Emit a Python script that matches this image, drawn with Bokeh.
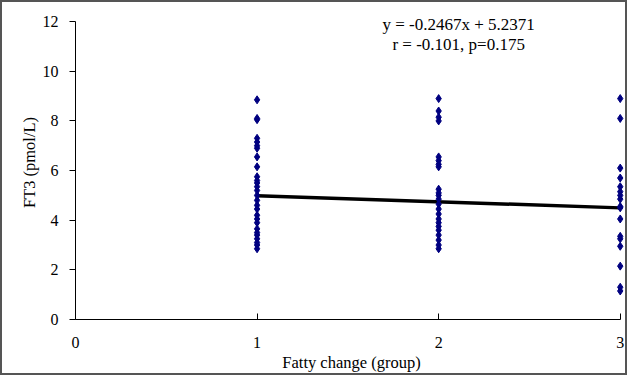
from bokeh.plotting import figure
from bokeh.models import Range1d, Label, ColumnDataSource, FixedTicker
from bokeh.embed import file_html
from bokeh.resources import INLINE

group1 = [8.85, 8.1, 8.05, 7.3, 7.15, 7.0, 6.9, 6.55, 6.15, 5.75, 5.6, 5.5, 5.35, 5.2,
          5.0, 4.8, 4.6, 4.45, 4.2, 4.05, 3.9, 3.65, 3.5, 3.4, 3.25, 3.1, 3.0, 2.85]
group2 = [8.9, 8.4, 8.15, 8.0, 6.55, 6.4, 6.25, 6.15, 5.25, 5.1, 5.0, 4.85, 4.65, 4.45,
          4.25, 4.05, 3.9, 3.75, 3.6, 3.4, 3.2, 3.0, 2.85]
group3 = [8.9, 8.1, 6.1, 5.7, 5.35, 5.15, 5.0, 4.85, 4.55, 4.5, 4.05, 3.35, 3.25, 2.95,
          2.15, 1.3, 1.15]
slope = -0.2467
intercept = 5.2371
x_ticks = [0, 1, 2, 3]
y_ticks = [0, 2, 4, 6, 8, 10, 12]
eq_text = "y = -0.2467x + 5.2371"
stat_text = "r = -0.101, p=0.175"

xs = [1] * len(group1) + [2] * len(group2) + [3] * len(group3)
ys = group1 + group2 + group3
src = ColumnDataSource(dict(x=xs, y=ys))

FONT = "Liberation Serif"

p = figure(width=627, height=375, output_backend="svg", toolbar_location=None,
           x_range=Range1d(0, 3.04), y_range=Range1d(0, 12.65),
           min_border_left=73, min_border_right=2, min_border_top=3, min_border_bottom=58)
p.styles = {"border": "2px solid #555555", "box-sizing": "border-box"}
p.outline_line_color = None
p.xgrid.visible = False
p.ygrid.visible = False

fit_x = [1, 3]
fit_y = [slope * v + intercept for v in fit_x]
p.line(fit_x, fit_y, line_color="black", line_width=3.5)
p.scatter("x", "y", source=src, marker="diamond", size=8, fill_color="#000080",
          line_color="#000080")

for ax in (p.xaxis[0], p.yaxis[0]):
    ax.axis_line_color = "black"
    ax.major_tick_line_color = "black"
    ax.minor_tick_line_color = None
    ax.major_label_text_font = FONT
    ax.major_label_text_font_size = "16px"
    ax.major_label_text_color = "black"
    ax.axis_label_text_font = FONT
    ax.axis_label_text_font_size = "16.5px"
    ax.axis_label_text_font_style = "normal"
    ax.axis_label_text_color = "black"

p.xaxis.ticker = FixedTicker(ticks=x_ticks)
p.xaxis.bounds = (0, 3)
p.xaxis.major_tick_in = 6
p.xaxis.major_tick_out = 0
p.xaxis.major_label_standoff = 17
p.xaxis.axis_label = "Fatty change (group)"
p.xaxis.axis_label_standoff = 2

p.yaxis.ticker = FixedTicker(ticks=y_ticks)
p.yaxis.bounds = (0, 12)
p.yaxis.major_tick_in = 0
p.yaxis.major_tick_out = 6
p.yaxis.major_label_standoff = 11
p.yaxis.axis_label = "FT3 (pmol/L)"
p.yaxis.axis_label_standoff = 1

p.add_layout(Label(x=2.11, y=11.88, text=eq_text, text_font=FONT, text_font_size="17px",
                   text_align="center", text_baseline="middle", text_color="black"))
p.add_layout(Label(x=2.11, y=11.07, text=stat_text, text_font=FONT, text_font_size="17px",
                   text_align="center", text_baseline="middle", text_color="black"))

open("out.html", "w").write(file_html(p, INLINE))
